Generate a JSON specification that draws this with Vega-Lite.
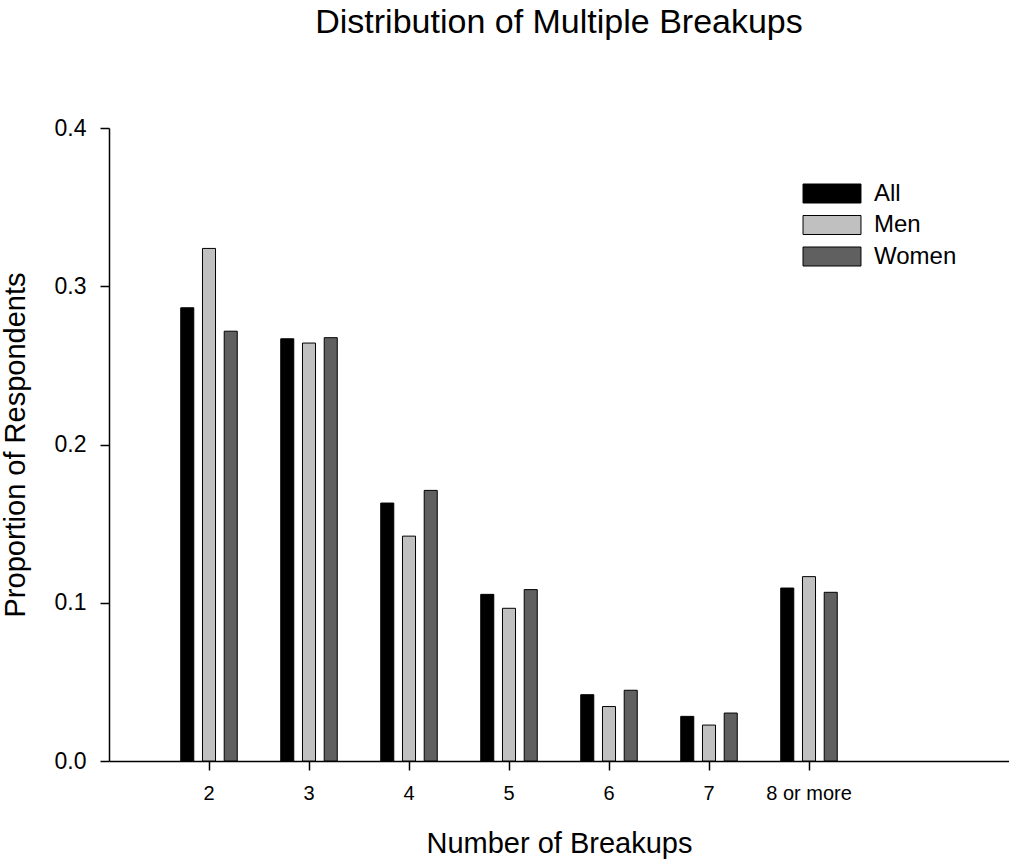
{
  "$schema": "https://vega.github.io/schema/vega-lite/v6.json",
  "width": 900,
  "height": 633,
  "autosize": {"type": "none"},
  "padding": {"left": 109, "top": 128, "right": 0, "bottom": 100},
  "background": "white",
  "title": {"text": "Distribution of Multiple Breakups", "fontSize": 34, "font": "Liberation Sans", "fontWeight": "normal", "color": "black", "anchor": "middle", "offset": 77},
  "config": {"view": {"stroke": null}, "font": "Liberation Sans"},
  "data": {"values": [
    {"breakups": "2", "group": "All", "proportion": 0.2864},
    {"breakups": "2", "group": "Men", "proportion": 0.3239},
    {"breakups": "2", "group": "Women", "proportion": 0.2716},
    {"breakups": "3", "group": "All", "proportion": 0.2668},
    {"breakups": "3", "group": "Men", "proportion": 0.2641},
    {"breakups": "3", "group": "Women", "proportion": 0.2675},
    {"breakups": "4", "group": "All", "proportion": 0.163},
    {"breakups": "4", "group": "Men", "proportion": 0.1421},
    {"breakups": "4", "group": "Women", "proportion": 0.171},
    {"breakups": "5", "group": "All", "proportion": 0.1053},
    {"breakups": "5", "group": "Men", "proportion": 0.0965},
    {"breakups": "5", "group": "Women", "proportion": 0.1083},
    {"breakups": "6", "group": "All", "proportion": 0.0419},
    {"breakups": "6", "group": "Men", "proportion": 0.0344},
    {"breakups": "6", "group": "Women", "proportion": 0.0447},
    {"breakups": "7", "group": "All", "proportion": 0.0282},
    {"breakups": "7", "group": "Men", "proportion": 0.0227},
    {"breakups": "7", "group": "Women", "proportion": 0.0303},
    {"breakups": "8 or more", "group": "All", "proportion": 0.1093},
    {"breakups": "8 or more", "group": "Men", "proportion": 0.1165},
    {"breakups": "8 or more", "group": "Women", "proportion": 0.1066}
  ]},
  "mark": {"type": "bar", "stroke": "black", "strokeWidth": 1},
  "encoding": {
    "x": {
      "field": "breakups", "type": "nominal",
      "sort": ["2", "3", "4", "5", "6", "7", "8 or more"],
      "scale": {"paddingInner": 0, "paddingOuter": 1, "align": 0.25},
      "axis": {"title": "Number of Breakups", "titleFontSize": 29, "titleFontWeight": "normal", "titleColor": "black", "titlePadding": 26,
               "labelFontSize": 20, "labelAngle": 0, "labelColor": "black", "labelPadding": 13,
               "tickSize": 9, "tickWidth": 1.5, "tickColor": "black", "domainColor": "black", "domainWidth": 1.5, "grid": false}
    },
    "xOffset": {"field": "group", "type": "nominal", "sort": ["All", "Men", "Women"], "scale": {"paddingInner": 0.4, "paddingOuter": 1.2}},
    "y": {
      "field": "proportion", "type": "quantitative",
      "scale": {"domain": [0, 0.4], "nice": false},
      "axis": {"title": "Proportion of Respondents", "titleFontSize": 29, "titleFontWeight": "normal", "titleColor": "black", "titlePadding": 24,
               "values": [0, 0.1, 0.2, 0.3, 0.4], "format": ".1f",
               "labelFontSize": 23, "labelColor": "black", "labelPadding": 14,
               "tickSize": 9, "tickWidth": 1.5, "tickColor": "black", "domainColor": "black", "domainWidth": 1.5, "grid": false}
    },
    "color": {
      "field": "group", "type": "nominal",
      "scale": {"domain": ["All", "Men", "Women"], "range": ["#000000", "#c0c0c0", "#606060"]},
      "legend": {"title": null, "orient": "none", "legendX": 694, "legendY": 53.5, "padding": 0,
                 "symbolType": "M-3.05,-1H3.05V1H-3.05Z", "symbolSize": 361, "symbolStrokeColor": "black", "symbolStrokeWidth": 1,
                 "symbolOffset": 17, "labelOffset": 30, "labelFontSize": 24, "labelColor": "black", "rowPadding": 7.5}
    }
  }
}
